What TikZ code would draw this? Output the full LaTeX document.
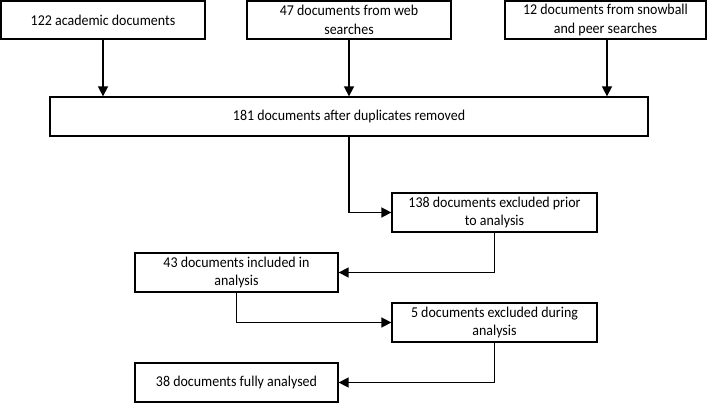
\documentclass[tikz,border=0pt]{standalone}
\usepackage{fontspec}
\setmainfont{Carlito}[FakeStretch=0.93]
\usetikzlibrary{arrows.meta}
\begin{document}
\begin{tikzpicture}[x=1pt,y=-1pt,
  box/.style={draw, line width=1.3pt, rectangle, align=center, inner sep=0pt, font=\fontsize{15pt}{18.5pt}\selectfont},
  conn/.style={line width=1.6pt, -{Triangle[length=10pt,width=10pt]}}]
\useasboundingbox (0,0) rectangle (709,403);
\node[box, minimum width=204, minimum height=38] (a) at (103,20) {122 academic documents};
\node[box, minimum width=204, minimum height=38] (b) at (349,20) {47 documents from web\\searches};
\node[box, minimum width=201, minimum height=38] (c) at (605.5,20) {12 documents from snowball\\and peer searches};
\node[box, minimum width=598, minimum height=39] (m) at (349,116.5) {181 documents after duplicates removed};
\node[box, minimum width=205, minimum height=39] (e1) at (494.5,212.5) {138 documents excluded prior\\to analysis};
\node[box, minimum width=203, minimum height=39] (i) at (236.5,272.5) {43 documents included in\\analysis};
\node[box, minimum width=205, minimum height=39] (e2) at (494.5,322.5) {5 documents excluded during\\analysis};
\node[box, minimum width=203, minimum height=39] (f) at (236.5,382.5) {38 documents fully analysed};
\draw[conn] (a.south) -- (a.south |- m.north);
\draw[conn] (b.south) -- (b.south |- m.north);
\draw[conn] ([xshift=1.5pt]c.south) -- ([xshift=1.5pt]c.south |- m.north);
\draw[conn] (m.south) |- (e1.west);
\draw[conn] (e1.south) |- (i.east);
\draw[conn] (i.south) |- (e2.west);
\draw[conn] (e2.south) |- (f.east);
\end{tikzpicture}
\end{document}
